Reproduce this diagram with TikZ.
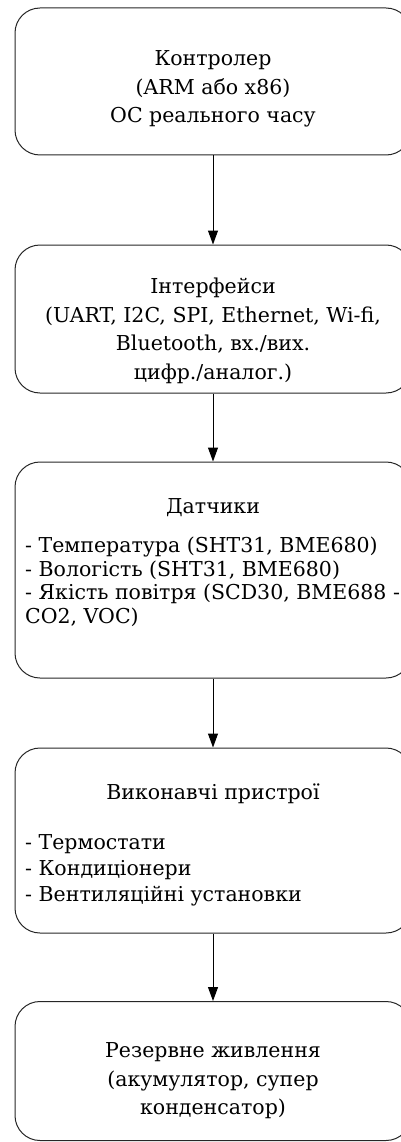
\documentclass[tikz,border=0pt]{standalone}
\usepackage{fontspec}
\setmainfont{DejaVu Serif}
\usepackage{tikz}
\usetikzlibrary{arrows.meta,positioning,calc}

\begin{document}
\begin{tikzpicture}[
    x=1pt, y=-1pt,
    >={Triangle[length=14pt, width=10pt]},
    block/.style = {rectangle, draw=black!85, rounded corners=25pt, line width=1pt, minimum width=396pt},
    title/.style = {align=center, inner sep=0pt, font=\fontsize{20.5}{28.5}\selectfont},
    items/.style = {align=left, anchor=west, inner sep=0pt, font=\fontsize{20.5}{23.5}\selectfont}
]
    \useasboundingbox (0,0) rectangle (401,1142);

    % Controller
    \node[block, minimum height=147pt] (ctrl) at (213,81.5) {};
    \node[title] (ctrltext) at (213,89) {Контролер\\(ARM або x86)\\ОС реального часу};

    % Interfaces
    \node[block, minimum height=148pt] (iface) at (213,319) {};
    \node[title] (ifacetext) at (213,331) {Інтерфейси\\(UART, I2C, SPI, Ethernet, Wi-fi,\\Bluetooth, вх./вих.\\цифр./аналог.)};

    % Sensors
    \node[block, minimum height=216pt] (sens) at (213,570) {};
    \node[title] (senstitle) at (213,508) {Датчики};
    \node[items] (senslist) at (25,582) {- Температура (SHT31, BME680)\\- Вологість (SHT31, BME680)\\- Якість повітря (SCD30, BME688 -\\CO2, VOC)};

    % Actuators
    \node[block, minimum height=185pt] (act) at (213,840.5) {};
    \node[title] (acttitle) at (213,794) {Виконавчі пристрої};
    \node[items, font=\fontsize{20.5}{26}\selectfont] (actlist) at (25,870) {- Термостати\\- Кондиціонери\\- Вентиляційні установки};

    % Backup power
    \node[block, minimum height=139pt] (power) at (213,1071) {};
    \node[title] (powertext) at (213,1081) {Резервне живлення\\(акумулятор, супер\\конденсатор)};

    % Arrows
    \draw[->, line width=1pt] (ctrl) -- (iface);
    \draw[->, line width=1pt] (iface) -- (sens);
    \draw[->, line width=1pt] (sens) -- (act);
    \draw[->, line width=1pt] (act) -- (power);

\end{tikzpicture}
\end{document}
